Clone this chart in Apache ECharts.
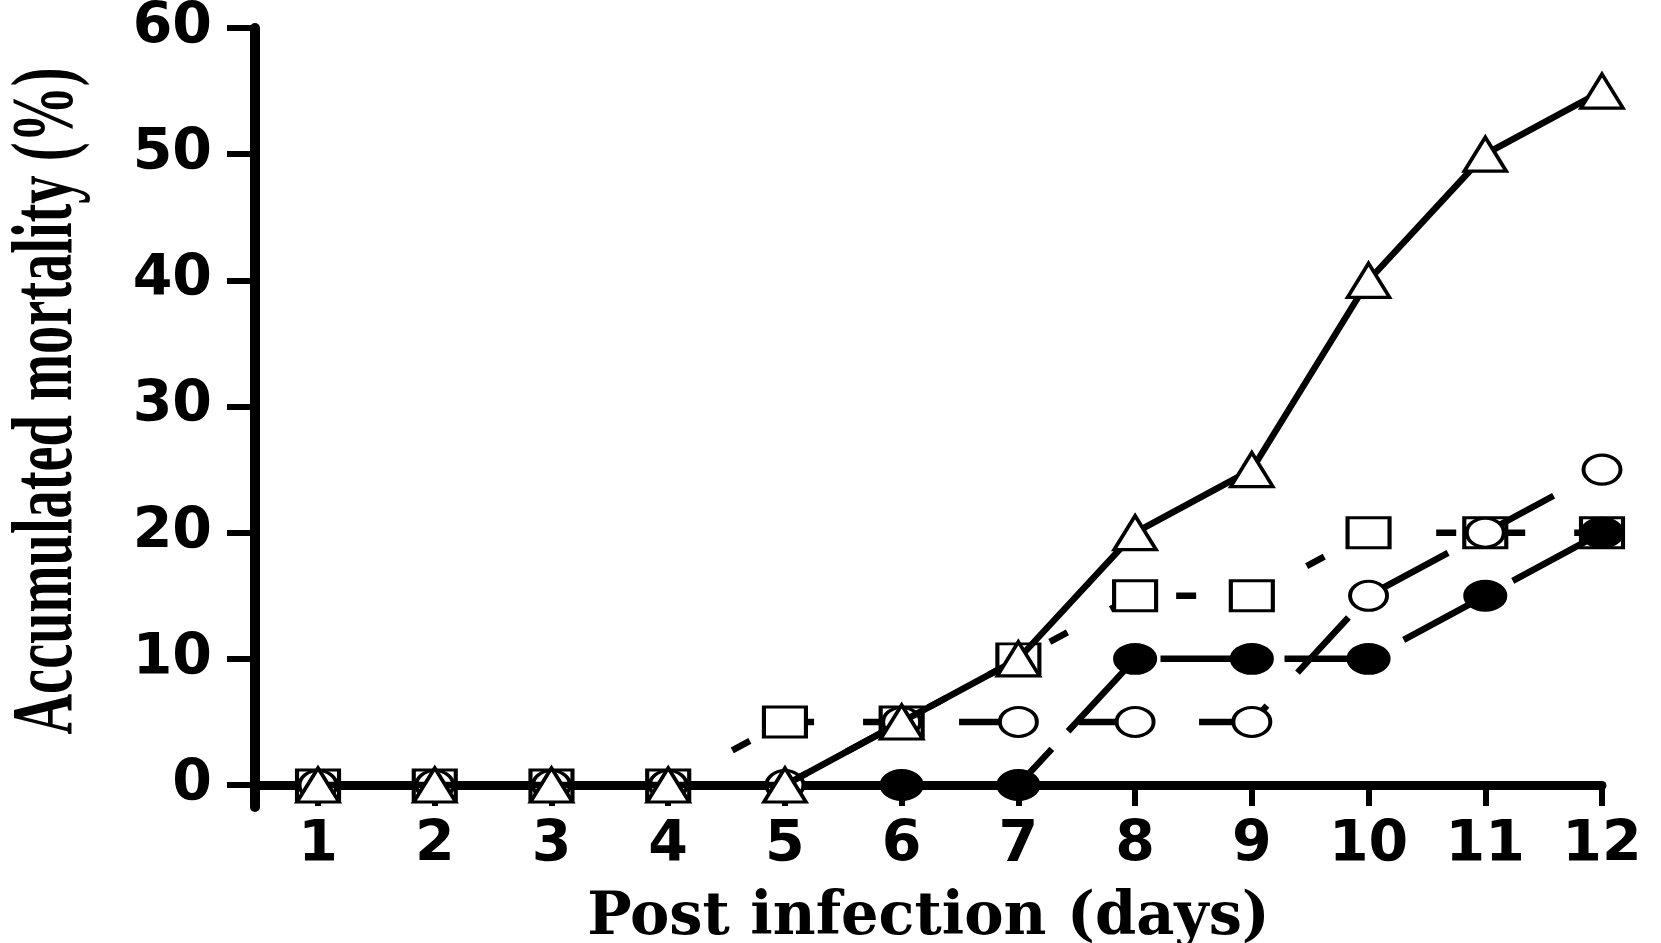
<!DOCTYPE html>
<html>
<head>
<meta charset="utf-8">
<title>Accumulated mortality</title>
<script src="https://cdn.jsdelivr.net/npm/echarts@6/dist/echarts.min.js"></script>
<style>
  html, body { margin: 0; padding: 0; background: #fff; }
  #chart { width: 1661px; height: 943px; }
</style>
</head>
<body>
<div id="chart"></div>
<script>
// Days after infection and y tick values
const days = [1, 2, 3, 4, 5, 6, 7, 8, 9, 10, 11, 12];
const yTicks = [0, 10, 20, 30, 40, 50, 60];

// Accumulated mortality (%) per group
const triangleGroup = [0, 0, 0, 0, 0, 5, 10, 20, 25, 40, 50, 55];
const squareGroup = [0, 0, 0, 0, 5, 5, 10, 15, 15, 20, 20, 20];
const openCircleGroup = [0, 0, 0, 0, 0, 5, 5, 5, 5, 15, 20, 25];
const filledCircleGroup = [null, null, null, null, null, 0, 0, 10, 10, 10, 15, 20];

const pairs = vals => days.map((d, i) => [d, vals[i]]);

const chart = echarts.init(document.getElementById('chart'), null, { renderer: 'canvas' });

const axisFont = { fontFamily: 'DejaVu Sans', fontWeight: 'bold', fontSize: 57, color: '#000' };

// One group: black line (solid or dashed) with its own marker shape
function lineSeries(name, vals, symbol, size, fill, dash, offset, z) {
  return {
    name: name,
    type: 'line',
    data: pairs(vals),
    symbol: symbol,
    symbolSize: size,
    showAllSymbol: true,
    clip: false,
    z: z,
    itemStyle: { color: fill, borderColor: '#000', borderWidth: 3.5 },
    lineStyle: { color: '#000', width: 6.5, type: dash, dashOffset: offset, cap: 'butt' },
    emphasis: { disabled: true }
  };
}

chart.setOption({
  animation: false,
  backgroundColor: '#fff',
  grid: { left: 255, right: 59, top: 28, bottom: 136, containLabel: false, outerBoundsMode: 'none' },
  xAxis: {
    type: 'value',
    min: 0.46,
    max: 12,
    axisLine: { show: true, onZero: true, lineStyle: { color: '#000', width: 9 } },
    axisTick: { show: true, customValues: days, length: 21, lineStyle: { color: '#000', width: 6 } },
    axisLabel: Object.assign({ customValues: days, margin: 11 }, axisFont),
    splitLine: { show: false },
    name: 'Post infection (days)',
    nameLocation: 'middle',
    nameGap: 82,
    nameTextStyle: { fontFamily: 'DejaVu Serif', fontWeight: 'bold', fontSize: 59, color: '#000' }
  },
  yAxis: {
    type: 'value',
    min: -1.74,
    max: 60,
    axisLine: { show: true, onZero: false, lineStyle: { color: '#000', width: 10 } },
    axisTick: { show: true, customValues: yTicks, length: 28, lineStyle: { color: '#000', width: 6 } },
    axisLabel: Object.assign({ customValues: yTicks, margin: 43 }, axisFont),
    splitLine: { show: false }
  },
  graphic: [{
    type: 'text',
    x: 48,
    y: 401,
    rotation: Math.PI / 2,
    scaleX: 0.94,
    scaleY: 1.46,
    style: {
      text: 'Accumulated mortality (%)',
      font: 'bold 60px "Liberation Serif"',
      fill: '#000',
      align: 'center',
      verticalAlign: 'middle',
      textAlign: 'center',
      textVerticalAlign: 'middle'
    }
  }],
  series: [
    lineSeries('square', squareGroup, 'rect', [42, 30], '#fff', [20, 49], 60, 2),
    lineSeries('open circle', openCircleGroup, 'circle', [37, 29], '#fff', [75, 45], 63, 3),
    lineSeries('filled circle', filledCircleGroup, 'circle', [40, 29], '#000', [100, 24], 58, 4),
    lineSeries('triangle', triangleGroup, 'triangle', [42, 34], '#fff', 'solid', 0, 5)
  ]
});
</script>
</body>
</html>
